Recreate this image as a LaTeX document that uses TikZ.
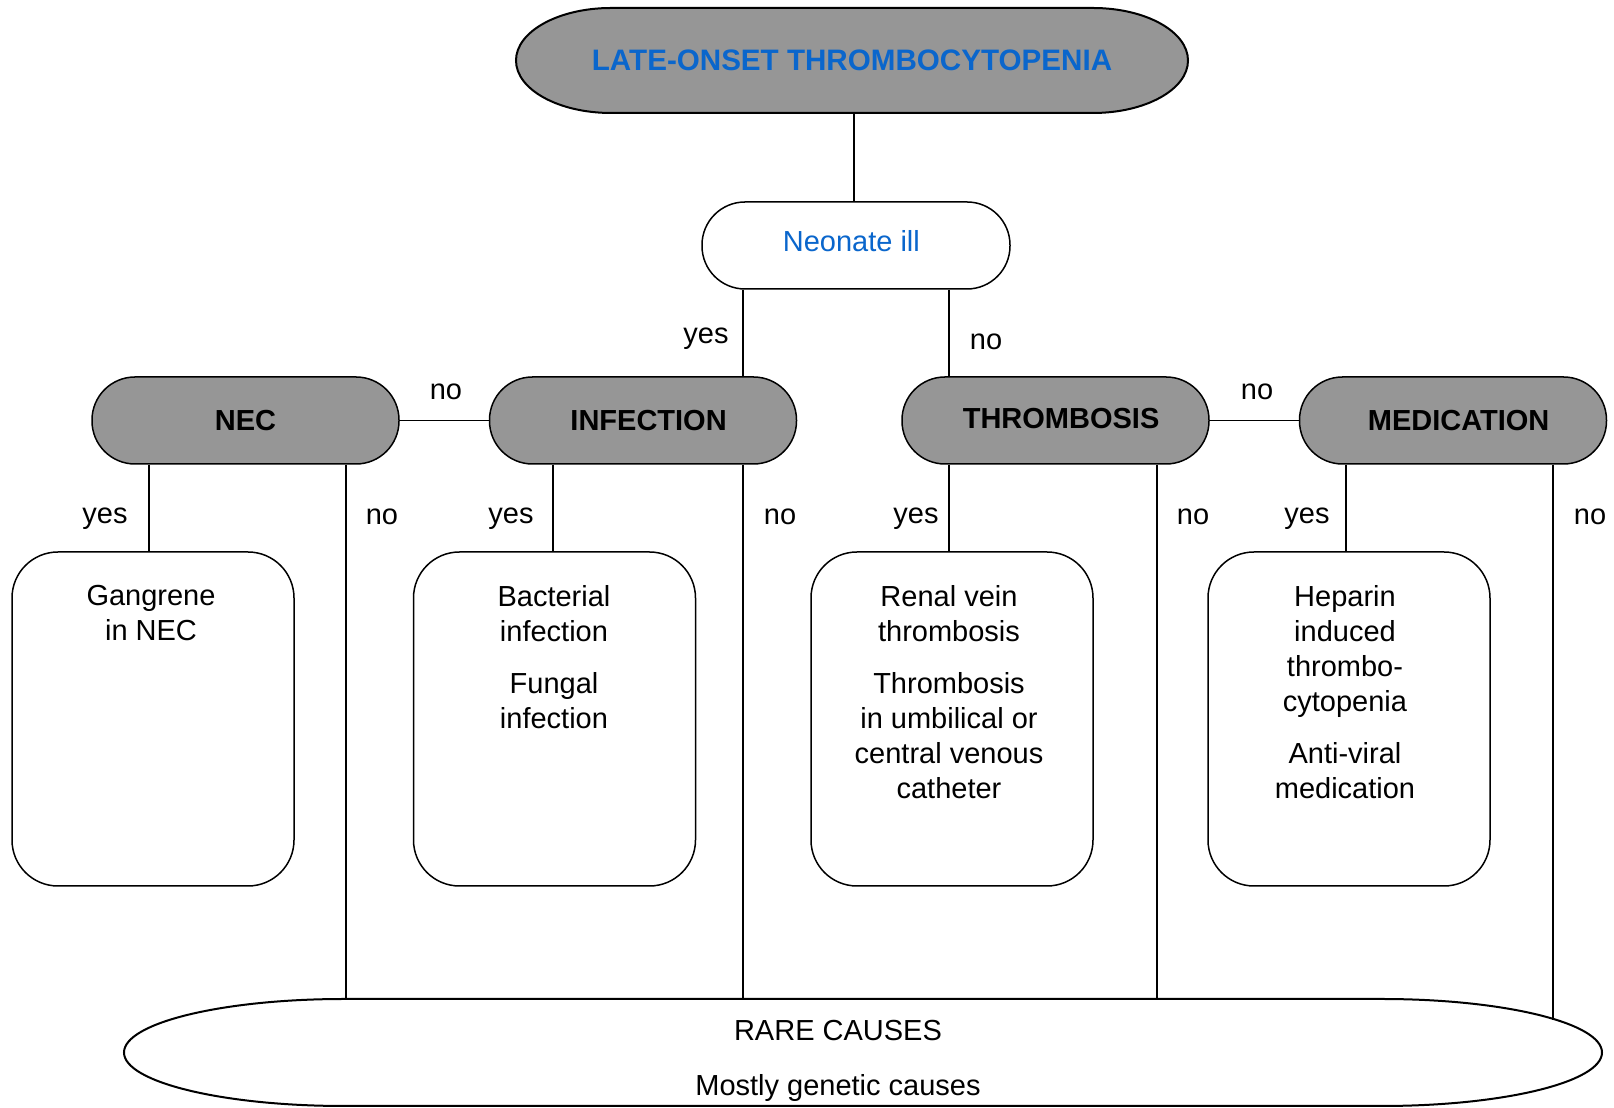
\documentclass[tikz,border=0pt]{standalone}
\usepackage{fontspec}
\setmainfont{Liberation Sans}
\definecolor{pillgray}{HTML}{969696}
\definecolor{tblue}{HTML}{0A66CC}
\begin{document}
\begin{tikzpicture}[x=0.5pt,y=0.5pt,
  every node/.style={font=\fontsize{14.5pt}{17.5pt}\selectfont},
  conn/.style={line width=0.75pt, draw=black},
  pill/.style={draw, line width=0.75pt, fill=pillgray, rectangle, rounded corners=21.5pt,
    minimum width=153.5pt, minimum height=43.5pt, inner sep=0,
    font=\fontsize{14.5pt}{17.5pt}\selectfont\bfseries},
  neostyle/.style={draw, line width=0.75pt, fill=white, rectangle, rounded corners=21.5pt,
    minimum width=154pt, minimum height=43.5pt, inner sep=0, text=tblue},
  boxstyle/.style={draw, line width=0.75pt, rectangle, rounded corners=23pt,
    minimum width=141pt, minimum height=167pt, inner sep=0},
  txt/.style={anchor=north, align=center, inner sep=0},
  lbl/.style={inner sep=0}
]
\useasboundingbox (0,0) rectangle (1614,1108);

% top shape
\draw[line width=1pt, fill=pillgray] (611,1100) -- (1093,1100)
  arc[start angle=90,end angle=-90,x radius=95,y radius=52.5] -- (611,995)
  arc[start angle=270,end angle=90,x radius=95,y radius=52.5] -- cycle;
\node[minimum width=336pt, minimum height=52.5pt, inner sep=0, text=tblue,
  font=\fontsize{14.8pt}{18pt}\selectfont\bfseries] (top) at (852,1047.5) {\raisebox{0.8pt}{LATE-ONSET THROMBOCYTOPENIA}};

% neonate
\node[neostyle] (neo) at (856,862.5) {\hspace*{-4.6pt}\raisebox{4pt}{Neonate ill}};

% level 2
\node[pill] (nec) at (245.5,687.5) {NEC};
\node[pill] (inf) at (643,687.5) {\hspace*{5.6pt}INFECTION};
\node[pill] (thr) at (1055.5,687.5) {\hspace*{5.6pt}\raisebox{2.5pt}{THROMBOSIS}};
\node[pill] (med) at (1453,687.5) {\hspace*{5.6pt}MEDICATION};

% level 3 boxes
\node[boxstyle] (b1) at (153,389) {};
\node[boxstyle] (b2) at (554.5,389) {};
\node[boxstyle] (b3) at (952,389) {};
\node[boxstyle] (b4) at (1349,389) {};

\node[txt] (t1) at (151,523) {Gangrene\\in NEC};
\node[txt] (t2) at (554,523) {Bacterial\\infection\\[8.5pt]Fungal\\infection};
\node[txt] (t3) at (949,523) {Renal vein\\thrombosis\\[8.5pt]Thrombosis\\in umbilical or\\central venous\\catheter};
\node[txt] (t4) at (1345,523) {Heparin\\induced\\thrombo-\\cytopenia\\[8.5pt]Anti-viral\\medication};

% bottom shape
\draw[line width=1pt] (344,109) -- (1382,109)
  arc[start angle=90,end angle=-90,x radius=220,y radius=53.5] -- (344,2)
  arc[start angle=270,end angle=90,x radius=220,y radius=53.5] -- cycle;
\node[align=center, inner sep=0] (rare) at (838,47) {RARE CAUSES\\[9.8pt]Mostly genetic causes};
\coordinate (rtop) at (863,109);
\coordinate (rcM) at (1553,88);

% x positions
\coordinate (c0) at (854,0);
\coordinate (x1y) at (149,0);
\coordinate (x1n) at (346,0);
\coordinate (x2y) at (553,0);
\coordinate (x2n) at (743,0);
\coordinate (x3y) at (949,0);
\coordinate (x3n) at (1157,0);
\coordinate (x4y) at (1346,0);
\coordinate (x4n) at (1553,0);

% connectors
\draw[conn] (top.south -| c0) -- (neo.north -| c0);
\draw[conn] (neo.south -| x2n) -- (inf.north -| x2n);
\draw[conn] (neo.south -| x3y) -- (thr.north -| x3y);
\draw[conn] (nec.east) -- (inf.west);
\draw[conn] (thr.east) -- (med.west);

\draw[conn] (nec.south -| x1y) -- (b1.north -| x1y);
\draw[conn] (inf.south -| x2y) -- (b2.north -| x2y);
\draw[conn] (thr.south -| x3y) -- (b3.north -| x3y);
\draw[conn] (med.south -| x4y) -- (b4.north -| x4y);

\draw[conn] (nec.south -| x1n) -- (rtop -| x1n);
\draw[conn] (inf.south -| x2n) -- (rtop -| x2n);
\draw[conn] (thr.south -| x3n) -- (rtop -| x3n);
\draw[conn] (med.south -| x4n) -- (rcM);

% labels
\node[lbl] (l1) at (706,769) {yes};
\node[lbl] (l2) at (986,766) {no};
\node[lbl] (l3) at (446,716) {no};
\node[lbl] (l4) at (1257,716) {no};
\node[lbl] (l5) at (105,589) {yes};
\node[lbl] (l6) at (382,591) {no};
\node[lbl] (l7) at (511,589) {yes};
\node[lbl] (l8) at (780,591) {no};
\node[lbl] (l9) at (916,589) {yes};
\node[lbl] (l10) at (1193,591) {no};
\node[lbl] (l11) at (1307,589) {yes};
\node[lbl] (l12) at (1590,591) {no};
\end{tikzpicture}
\end{document}
